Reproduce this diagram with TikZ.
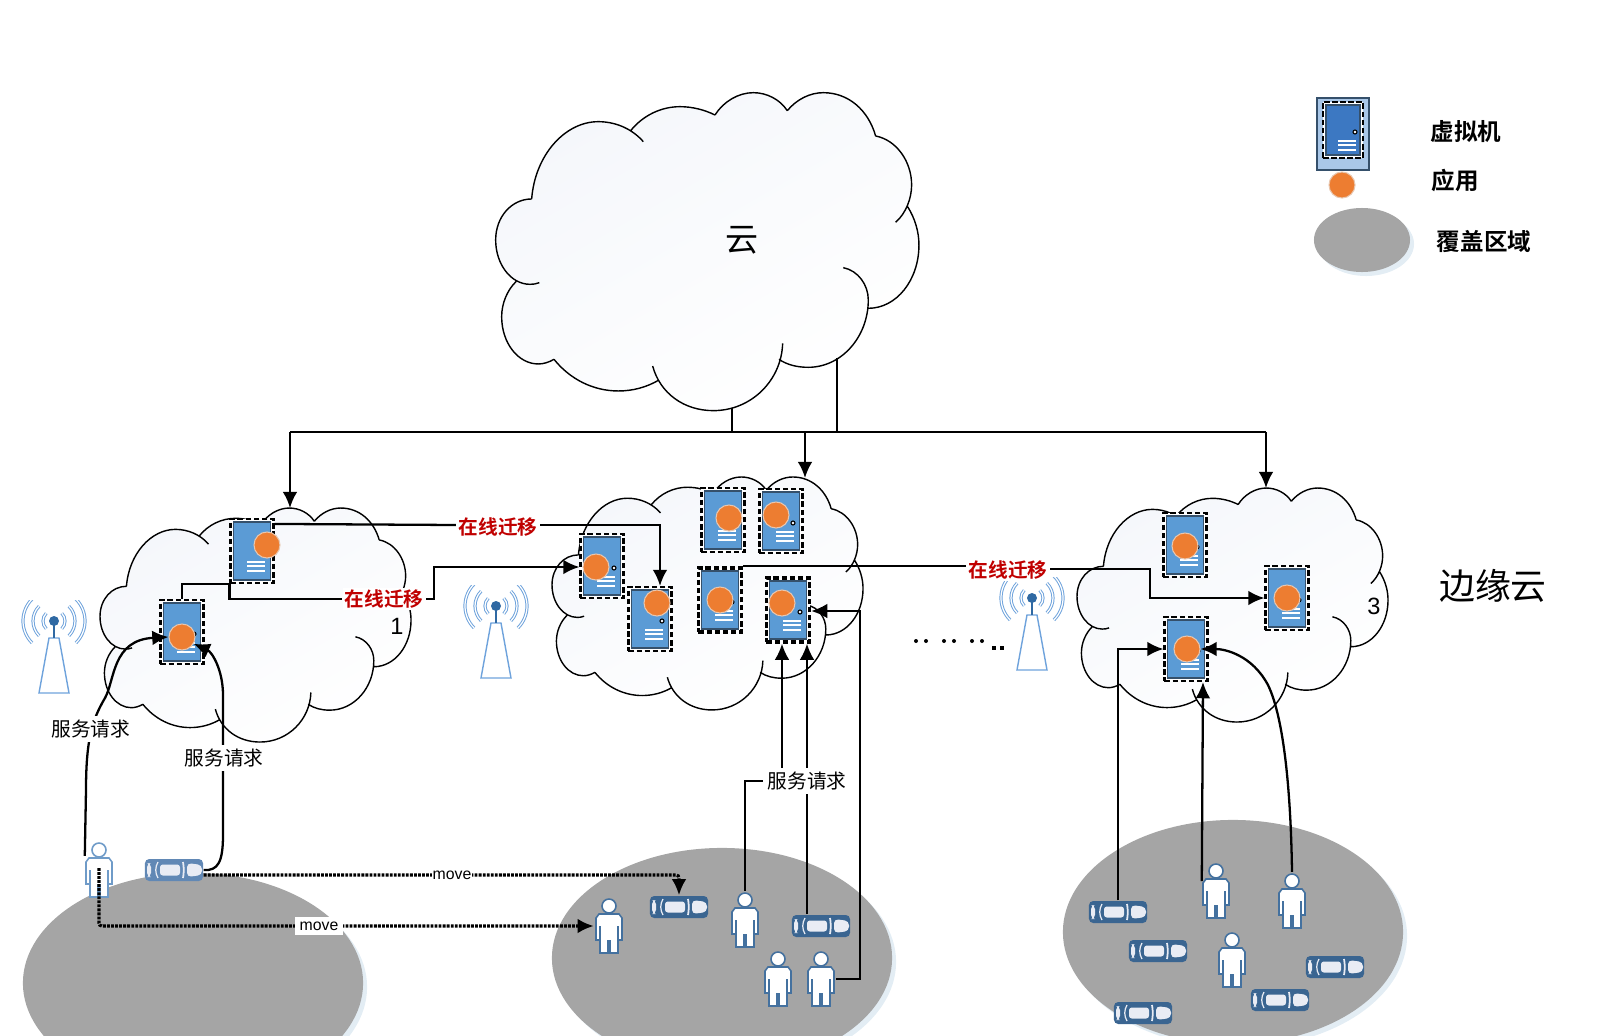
\documentclass[tikz,border=0pt]{standalone}
\usepackage{fontspec}
\setmainfont{Liberation Sans}
\newfontfamily\cjkfont[BoldFont={Noto Sans CJK SC Bold}]{Noto Sans CJK SC}
\usetikzlibrary{shapes.geometric,arrows.meta,calc,positioning}

\definecolor{doorblue}{HTML}{5B9BD5}
\definecolor{doordeep}{HTML}{3C78C2}
\definecolor{doorline}{HTML}{35506B}
\definecolor{appcol}{HTML}{ED7D31}
\definecolor{approot}{HTML}{E8C6AE}
\definecolor{zonegray}{HTML}{A5A5A5}
\definecolor{zonehaze}{HTML}{E3EDF4}
\definecolor{persondark}{HTML}{44719F}
\definecolor{personpale}{HTML}{6F9BC8}
\definecolor{cardark}{HTML}{3A6591}
\definecolor{carpale}{HTML}{6188B5}
\definecolor{carglass}{HTML}{E9ECF4}
\definecolor{towerblue}{HTML}{6FA3DC}
\definecolor{towerdot}{HTML}{2F69A3}
\definecolor{migred}{HTML}{C00000}
\definecolor{cloudtint}{HTML}{F5F7FB}
\definecolor{legendfill}{HTML}{A9C7E8}

\newcommand{\cloudoutline}[1]{
  (155,357) .. controls (165,225) and (255,125) .. (355,125) .. controls (405,125) and (455,145) .. (490,185) #1
  (452,152) .. controls (490,105) and (545,80) .. (600,80) .. controls (638,80) and (675,90) .. (705,105) #1
  (705,105) .. controls (730,65) and (775,38) .. (820,38) .. controls (860,38) and (900,58) .. (922,92) #1
  (922,92) .. controls (950,58) and (990,38) .. (1030,38) .. controls (1105,38) and (1165,90) .. (1187,168) #1
  (1187,168) .. controls (1250,180) and (1295,245) .. (1295,315) .. controls (1295,355) and (1278,400) .. (1247,427) #1
  (1283,380) .. controls (1305,415) and (1317,455) .. (1317,495) .. controls (1317,600) and (1250,685) .. (1165,685) #1
  (1090,563) .. controls (1135,572) and (1165,615) .. (1165,660) .. controls (1165,770) and (1085,862) .. (985,862) .. controls (952,862) and (922,855) .. (897,838) #1
  (908,790) .. controls (905,900) and (815,992) .. (700,992) .. controls (612,992) and (540,940) .. (518,858) #1
  (537,900) .. controls (500,922) and (458,933) .. (415,933) .. controls (340,933) and (270,898) .. (222,838) #1
  (222,838) .. controls (207,847) and (190,852) .. (175,852) .. controls (115,852) and (65,790) .. (65,710) .. controls (65,670) and (82,630) .. (108,605) #1
  (178,608) .. controls (168,612) and (160,613) .. (150,613) .. controls (93,613) and (47,553) .. (47,480) .. controls (47,410) and (95,357) .. (155,357)
}

\tikzset{
  cloudpic/.pic={
    \path[shading=axis,top color=cloudtint,middle color=white,bottom color=white,shading angle=30] \cloudoutline{--} -- cycle;
    \draw[line width=.4pt] \cloudoutline{};
  },
  vmbox/.style={rectangle,draw=black,fill=white,line width=.6pt,dash pattern=on 1.6pt off .7pt,
    minimum width=.43cm,minimum height=.64cm,inner sep=0pt,
    path picture={
      \draw[solid,fill=#1,draw=doorline,line width=.3pt]
        ([shift={(.03cm,-.03cm)}]path picture bounding box.north west) rectangle
        ([shift={(-.03cm,.03cm)}]path picture bounding box.south east);
      \begin{scope}[shift={(path picture bounding box.center)},solid]
        \draw[fill=carglass,draw=black,line width=.3pt] (12,2) circle (2);
        \foreach \ly in {11,15,20} \draw[white,line width=.35pt] (-5,\ly) -- (13,\ly);
      \end{scope}
    }},
  vmbox/.default=doorblue,
  vmheavy/.style={vmbox,line width=.95pt},
  appdot/.style={circle,fill=appcol,draw=approot,line width=.3pt,minimum size=.26cm,inner sep=0pt},
  zone/.style={ellipse,fill=zonegray,minimum width=3.4cm,minimum height=2.2cm,inner sep=0pt,
    preaction={fill=zonehaze,transform canvas={xshift=.04cm,yshift=-.04cm}}},
  person/.style={rectangle,minimum width=.29cm,minimum height=.57cm,inner sep=0pt,
    path picture={
      \begin{scope}[shift={(path picture bounding box.center)},draw=#1,line width=.45pt,fill=white]
        \draw[fill=white] (0,-20) circle (7);
        \draw[fill=white] (-13,-8) -- (-10,-12) -- (10,-12) -- (13,-8) -- (13,14) -- (9,14) -- (9,27) -- (1,27) -- (1,15) -- (-1,15) -- (-1,27) -- (-9,27) -- (-9,14) -- (-13,14) -- cycle;
        \draw (-9,0) -- (-9,14) (9,0) -- (9,14);
      \end{scope}
    }},
  person/.default=persondark,
  car/.style={rectangle,rounded corners=1.2pt,fill=#1,minimum width=.58cm,minimum height=.22cm,inner sep=0pt,
    path picture={
      \begin{scope}[shift={(path picture bounding box.center)}]
        \fill[carglass] (-27,-7) rectangle (-23,7);
        \draw[carglass,line width=.35pt] (-16,-8) .. controls (-19,-3) and (-19,3) .. (-16,8);
        \fill[carglass,rounded corners=.8pt] (-14,-5.5) rectangle (6,5.5);
        \draw[carglass,line width=.5pt] (9,-8) .. controls (10,-3) and (10,3) .. (9,8);
        \fill[carglass] (13,-7) -- (28,-5) -- (28,5) -- (13,7) -- cycle;
      \end{scope}
    }},
  car/.default=cardark,
  tower/.style={rectangle,minimum width=.72cm,minimum height=1.2cm,inner sep=0pt,
    path picture={
      \begin{scope}[shift={(path picture bounding box.center)}]
        \foreach \r in {11,21,31} {
          \draw[towerblue,line width=.28pt,double=white,double distance=.35pt] ({\r*cos(45)},{-40-\r*sin(45)}) arc[start angle=-45,end angle=45,radius=\r];
          \draw[towerblue,line width=.28pt,double=white,double distance=.35pt] ({-\r*cos(45)},{-40-\r*sin(45)}) arc[start angle=225,end angle=135,radius=\r];
        }
        \draw[towerblue,line width=.4pt,fill=white] (-5,-23) -- (5,-23) -- (15,32) -- (-15,32) -- cycle;
        \draw[towerdot,line width=.6pt] (0,-40) -- (0,-23);
        \fill[towerdot] (0,-40) circle (5);
      \end{scope}
    }},
  link/.style={draw=black,line width=.65pt},
  flow/.style={link,-{Latex[length=4.6pt,width=4.2pt]}},
  movepath/.style={draw=black,line width=.9pt,dash pattern=on .8pt off .35pt,rounded corners=.8pt,-{Latex[length=4.6pt,width=4.2pt]}},
  movetext/.style={fill=white,inner sep=.3pt,font=\fontsize{4.5}{5}\selectfont},
  reqtext/.style={fill=white,inner sep=1pt,font=\cjkfont\fontsize{5.6}{7}\selectfont},
  migtext/.style={fill=white,inner sep=.6pt,text=migred,font=\cjkfont\bfseries\fontsize{5.6}{7}\selectfont},
  legendtext/.style={font=\cjkfont\bfseries\fontsize{6.7}{8}\selectfont},
}

\begin{document}
\begin{tikzpicture}[x=.01cm,y=-.01cm]
  \clip (0,0) rectangle (1605,1036);

  \node[zone] (zoneA) at (193,983) {};
  \node[zone] (zoneB) at (722,958) {};
  \node[zone,minimum height=2.24cm] (zoneC) at (1233,932) {};

  \pic[xscale=.3333,yscale=.3333] (cloudTop) at (480,80) {cloudpic};
  \pic[xscale=.2449,yscale=.2453] (cloudA) at (88.5,498.7) {cloudpic};
  \pic[xscale=.2449,yscale=.2442] (cloudB) at (540.5,467.7) {cloudpic};
  \pic[xscale=.2449,yscale=.2453] (cloudC) at (1065.5,478.7) {cloudpic};

  \node (topname) at (742,240) {\cjkfont\fontsize{9.4}{11}\selectfont 云};
  \node (edgename) at (1493,586) {\cjkfont\fontsize{10.2}{12}\selectfont 边缘云};
  \node[font=\fontsize{6.7}{8}\selectfont] (numA) at (397,626) {1};
  \node[font=\fontsize{6.7}{8}\selectfont] (numC) at (1374,606) {3};

  \node[tower] (towerA) at (54,661) {};
  \node[tower] (towerB) at (496,646) {};
  \node[tower] (towerC) at (1032,638) {};

  \foreach \n/\x/\y/\ax/\ay in {A/252/551/267/545,B/182/632/182/637,C/602/566/596/567,D/650/619/657/603,E/723/520/729/518,F/781/521/776/515,I/1185/545/1185/546,J/1287/598/1287/598,K/1186/649/1187/649} {
    \node[vmbox] (vm\n) at (\x,\y) {};
    \node[appdot] (app\n) at (\ax,\ay) {};
  }
  \foreach \n/\x/\y/\ax/\ay in {G/720/600/720/600,H/788/610/782/603} {
    \node[vmheavy] (vm\n) at (\x,\y) {};
    \node[appdot] (app\n) at (\ax,\ay) {};
  }

  \foreach \n/\x/\y in {1/609/926,2/745/920,3/778/979,4/821/979,5/1216/891,6/1292/901,7/1232/960} {
    \node[person] (p\n) at (\x,\y) {};
  }
  \node[person=personpale] (p0) at (99,870) {};
  \foreach \n/\x/\y in {1/679/907,2/821/926,3/1118/912,4/1158/951,5/1335/967,6/1280/1000,7/1143/1013} {
    \node[car] (car\n) at (\x,\y) {};
  }
  \node[car=carpale] (car0) at (174,870) {};

  \coordinate (footA) at (732,408);
  \coordinate (footB) at (837,358);
  \coordinate (trunkA) at (290,432);
  \coordinate (trunkB) at (805,432);
  \coordinate (trunkC) at (1266,432);
  \coordinate (edgeA) at (290,508);
  \coordinate (edgeB) at (805,478);
  \coordinate (edgeC) at (1266,488);
  \draw[link] (trunkA) -- (trunkC);
  \draw[link] (footA) -- (footA |- trunkA);
  \draw[link] (footB) -- (footB |- trunkA);
  \draw[flow] (trunkA) -- (edgeA);
  \draw[flow] (trunkB) -- (edgeB);
  \draw[flow] (trunkC) -- (edgeC);

  \node[migtext] (migA) at (498,527) {在线迁移};
  \node[migtext] (migB) at (384,599) {在线迁移};
  \node[migtext] (migC) at (1008,570) {在线迁移};
  \coordinate (migUp) at (434,567);
  \coordinate (migDown) at (1150,569);
  \draw[link] ($(vmA.north east)+(0,6)$) -- (migA.west |- 0,525);
  \draw[flow] (migA.east |- 0,525) -| ($(vmD.north)+(10,0)$);
  \draw[link] (vmB.north) |- (vmA.south west) |- (migB.west);
  \draw[flow] (migB.east) -| (migUp) -- (vmC.west |- migUp);
  \draw[link] (vmG.north east) -- (migC.west |- vmG.north east);
  \draw[flow] (migC.east |- migDown) -- (migDown) |- (vmJ.west);

  \draw[flow] ($(p0.north west)+(1,15)$) -- (86,790) .. controls (86,740) and (92,720) .. (105,698) .. controls (115,680) and (112,640) .. (appB.west);
  \draw[flow] (car0.east) .. controls (218,871) and (223,862) .. (223,835) -- (223,695) .. controls (223,670) and (212,652) .. (appB.-30);
  \node[reqtext] (reqA) at (91,729) {服务请求};
  \node[reqtext] (reqB) at (224,758) {服务请求};

  \node[reqtext] (reqC) at (807,781) {服务请求};
  \draw[link] (p2.north) |- (reqC.west);
  \draw[flow] (reqC.north -| appH) -- (vmH.south -| appH);
  \draw[link] (car2.north -| reqC) -- (reqC.south);
  \draw[flow] (reqC.north) -- (vmH.south -| reqC);
  \coordinate (sideB) at (860,611);
  \draw[flow] (p4.east) -| (sideB) -- (vmH.east |- sideB);

  \draw[flow] (car3.north) |- (vmK.west);
  \draw[flow] ($(p5.west)+(1,-10)$) -- ($(vmK.south)+(17,0)$);
  \draw[flow] (p6.north) .. controls (1291,800) and (1285,720) .. (1268,685) .. controls (1252,655) and (1225,649) .. (appK.east);

  \draw[movepath] (car0.east |- 0,875) -| (car1.north);
  \draw[movepath] ($(p0.center)+(0,-2)$) |- (p1.west);
  \node[movetext] (moveA) at (452,875) {move};
  \node[movetext,inner sep=1.2pt] (moveB) at (319,926) {move};

  \foreach \x in {916,926,944,954,972,982} \fill (\x,641) circle (2);
  \foreach \x in {994,1002} \fill (\x-2,646) rectangle (\x+2,650);

  \node[rectangle,draw=doorline,fill=legendfill,line width=.6pt,minimum width=.52cm,minimum height=.72cm,inner sep=0pt] (keyBox) at (1343,134) {};
  \node[vmbox=doordeep,minimum width=.4cm,minimum height=.56cm] (keyVm) at (1343,130) {};
  \node[appdot] (keyApp) at (1342,185) {};
  \node[zone,minimum width=.96cm,minimum height=.64cm] (keyZone) at (1362,240) {};
  \node[legendtext] (keyVmText) at (1466,132) {虚拟机};
  \node[legendtext] (keyAppText) at (1455,181) {应用};
  \node[legendtext] (keyZoneText) at (1484,242) {覆盖区域};
\end{tikzpicture}
\end{document}
